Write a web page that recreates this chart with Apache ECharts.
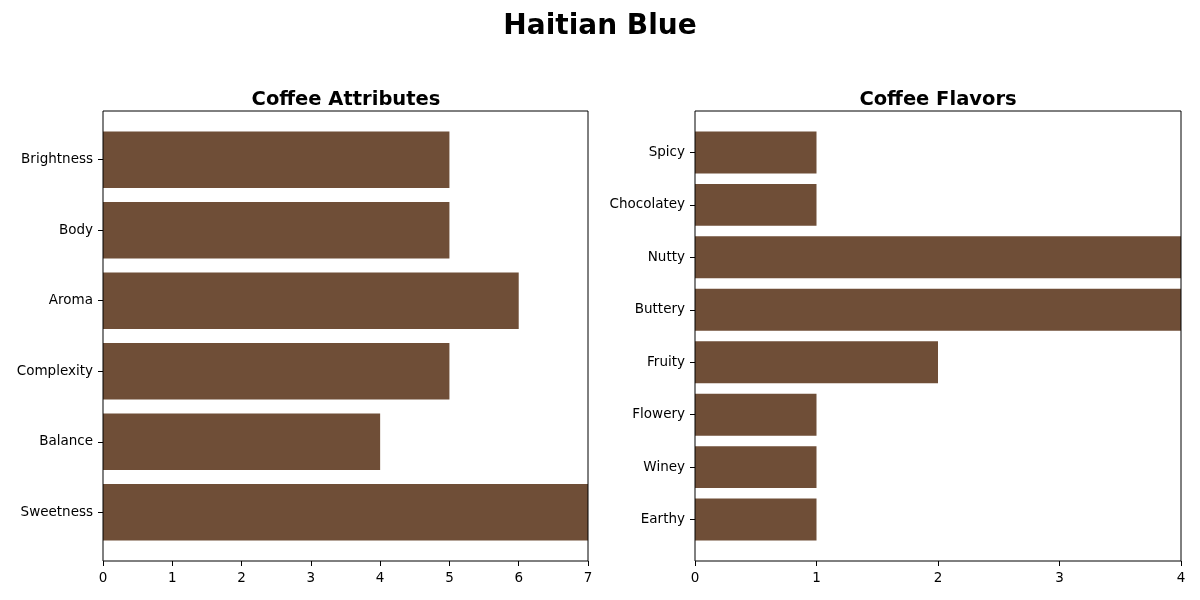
<!DOCTYPE html>
<html><head><meta charset="utf-8">
<script src="https://cdn.jsdelivr.net/npm/echarts@6/dist/echarts.min.js"></script>
<style>html,body{margin:0;padding:0;background:#fff}#c{width:1200px;height:600px}</style>
</head><body><div id="c"></div>
<script>
const attrCategories = ['Brightness','Body','Aroma','Complexity','Balance','Sweetness'];
const attrValues = [5,5,6,5,4,7];
const flavorCategories = ['Spicy','Chocolatey','Nutty','Buttery','Fruity','Flowery','Winey','Earthy'];
const flavorValues = [1,1,4,4,2,1,1,1];

const color = '#6F4E37';
const font = 'DejaVu Sans';
const chart = echarts.init(document.getElementById('c'));

function dataGrid(n){ // matplotlib-like margins: range (n-1)+0.8 with 5% padding each side
  const unit = 450 / ((n - 0.2) * 1.1);
  const h = unit * n;
  return {top: 111 + (450 - h) / 2, height: h};
}
const gA = dataGrid(attrCategories.length);
const gF = dataGrid(flavorCategories.length);
const offA = 561 - (gA.top + gA.height);
const offF = 561 - (gF.top + gF.height);

const catAxis = (cats, gi) => ({
  type:'category', gridIndex:gi, data:cats, inverse:true,
  axisLine:{show:false},
  axisTick:{show:true, alignWithLabel:true, length:5, lineStyle:{color:'#000'}},
  axisLabel:{color:'#000', fontSize:13.5, fontFamily:font, margin:10},
  splitLine:{show:false}
});
const valAxis = (max, gi, off) => ({
  type:'value', gridIndex:gi, min:0, max:max, interval:1, offset:off,
  axisLine:{show:false},
  axisTick:{show:true, length:5, lineStyle:{color:'#000'}},
  axisLabel:{color:'#000', fontSize:13.5, fontFamily:font, margin:10},
  splitLine:{show:false}
});

chart.setOption({
  animation:false,
  backgroundColor:'#fff',
  title:[
    {text:'Haitian Blue', left:'center', top:8, textStyle:{fontSize:28, fontWeight:'bold', fontFamily:font, color:'#000'}},
    {text:'Coffee Attributes', left:341, top:85, textAlign:'center', textStyle:{fontSize:19.5, fontWeight:'bold', fontFamily:font, color:'#000'}},
    {text:'Coffee Flavors', left:933, top:85, textAlign:'center', textStyle:{fontSize:19.5, fontWeight:'bold', fontFamily:font, color:'#000'}}
  ],
  grid:[
    {left:103, top:111, width:485, height:450, show:true, borderColor:'#000', borderWidth:1, backgroundColor:'transparent', z:10},
    {left:103, top:gA.top, width:485, height:gA.height},
    {left:695, top:111, width:486, height:450, show:true, borderColor:'#000', borderWidth:1, backgroundColor:'transparent', z:10},
    {left:695, top:gF.top, width:486, height:gF.height}
  ],
  xAxis:[
    {type:'value', gridIndex:0, show:false},
    valAxis(7, 1, offA),
    {type:'value', gridIndex:2, show:false},
    valAxis(4, 3, offF)
  ],
  yAxis:[
    {type:'value', gridIndex:0, show:false},
    catAxis(attrCategories, 1),
    {type:'value', gridIndex:2, show:false},
    catAxis(flavorCategories, 3)
  ],
  series:[
    {type:'bar', xAxisIndex:1, yAxisIndex:1, data:attrValues, barCategoryGap:'20%', itemStyle:{color:color}},
    {type:'bar', xAxisIndex:3, yAxisIndex:3, data:flavorValues, barCategoryGap:'20%', itemStyle:{color:color}}
  ]
});
</script></body></html>
